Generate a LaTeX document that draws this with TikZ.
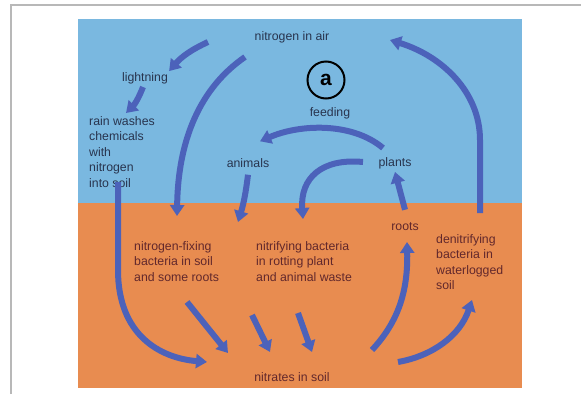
\documentclass[tikz,border=0pt]{standalone}
\usepackage{fontspec}
\setmainfont{Liberation Sans}
\usetikzlibrary{arrows.meta}
\definecolor{skyblue}{RGB}{122,184,224}
\definecolor{soil}{RGB}{232,140,80}
\definecolor{flow}{RGB}{76,98,186}
\definecolor{skytext}{RGB}{40,52,78}
\definecolor{soiltext}{RGB}{98,40,44}

\begin{document}
\begin{tikzpicture}[
  x=1pt,y=-1pt,
  font=\fontsize{12.3}{15.5}\selectfont,
  lbl/.style={text=skytext,inner sep=1pt},
  soillbl/.style={text=soiltext,align=left,anchor=north west,inner sep=1pt},
  arr/.style={-{Triangle[length=11pt,width=14pt]},line width=6pt,draw=flow}
]
\useasboundingbox (0,0) rectangle (581,394);
\fill[white] (0,0) rectangle (581,394);
\draw[black!28,line width=1.5pt] (11,394) -- (11,5) -- (581,5);
\fill[skyblue] (78,19) rectangle (522,203);
\fill[soil] (78,203) rectangle (522,388);

\node[lbl] (air) at (292,37) {nitrogen in air};
\node[lbl] (lightning) at (145,78) {lightning};
\node[lbl,align=left,anchor=north west] (rain) at (88,115)
  {rain washes\\chemicals\\with\\nitrogen\\into soil};
\node[draw=black,line width=2pt,circle,minimum size=37pt,inner sep=0pt,
  font=\fontsize{21}{21}\selectfont\bfseries] (a) at (326,80) {a};
\node[lbl] (feeding) at (330,113) {feeding};
\node[lbl] (animals) at (248,163) {animals};
\node[lbl] (plants) at (395,163) {plants};
\node[soillbl,anchor=center] (roots) at (405,227) {roots};
\node[soillbl] (fixing) at (133,240)
  {nitrogen-fixing\\bacteria in soil\\and some roots};
\node[soillbl] (nitrifying) at (255,240)
  {nitrifying bacteria\\in rotting plant\\and animal waste};
\node[soillbl] (denitrifying) at (435,233)
  {denitrifying\\bacteria in\\waterlogged\\soil};
\node[soillbl,anchor=center] (nitrates) at (292,377) {nitrates in soil};

\coordinate (airleft) at (208,42);
\coordinate (airdown) at (245,57);
\coordinate (airright) at (390,40);
\coordinate (lightfoot) at (143,87);
\coordinate (rainhead) at (126,113);
\coordinate (rainfoot) at (118,182);
\coordinate (fixtop) at (177,216);
\coordinate (nitrtop) at (238,222);
\coordinate (wastetop) at (303,219);
\coordinate (plantsleft) at (363,162);
\coordinate (plantsup) at (383,148);
\coordinate (denitrtop) at (480,213);
\coordinate (fixfoot) at (187,302);
\coordinate (nitrfoot) at (252,315);
\coordinate (wastefoot) at (298,313);
\coordinate (nitrleft) at (207,362);
\coordinate (nitrin) at (228,353);
\coordinate (nitrmid) at (270,352);
\coordinate (nitrmid2) at (312,352);
\coordinate (nitrright) at (372,350);
\coordinate (nitrright2) at (398,362);
\coordinate (rootfoot) at (407,242);
\coordinate (denitrfoot) at (472,300);

\draw[arr] (airleft) to[bend right=12] (lightning.north east);
\draw[arr] (lightfoot) to[bend left=12] (rainhead);
\draw[arr] (rainfoot) -- (118,270) .. controls (118,335) and (160,358) .. (nitrleft);
\draw[arr] (airdown) .. controls (200,88) and (178,140) .. (fixtop);
\draw[arr] (plantsup) .. controls (352,122) and (300,124) .. ([shift={(12,-16)}]animals.north);
\draw[arr] ([yshift=-6pt]animals.south) to[bend left=5] (nitrtop);
\draw[arr] (plantsleft) .. controls (322,158) and (300,178) .. (wastetop);
\draw[arr] ([yshift=12pt]roots.north) -- ([yshift=-2pt]plants.south);
\draw[arr] (denitrtop) -- (480,140) .. controls (480,92) and (442,56) .. (airright);
\draw[arr] (fixfoot) -- (nitrin);
\draw[arr] (nitrfoot) -- (nitrmid);
\draw[arr] (wastefoot) -- (nitrmid2);
\draw[arr] (nitrright) .. controls (398,322) and (408,292) .. (rootfoot);
\draw[arr] (nitrright2) .. controls (432,356) and (460,336) .. (denitrfoot);
\end{tikzpicture}
\end{document}
